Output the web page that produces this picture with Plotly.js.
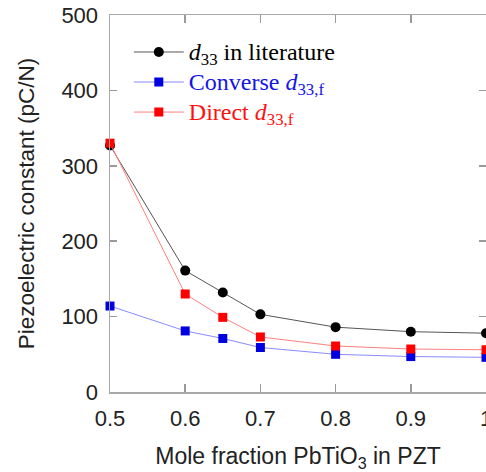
<!DOCTYPE html>
<html>
<head>
<meta charset="utf-8">
<script src="https://cdn.plot.ly/plotly-3.0.1.min.js"></script>
<style>
  html, body { margin: 0; padding: 0; background: #fff; overflow: hidden; }
  #chart { width: 486px; height: 472px; }
</style>
</head>
<body>
<div id="chart"></div>
<script>
// PbTiO3 mole fraction in PZT
const moleFraction = [0.5, 0.6, 0.65, 0.7, 0.8, 0.9, 1.0];

// Piezoelectric constants (pC/N)
const d33Literature = [327, 161, 132, 103, 86, 80, 78];
const d33Converse   = [114, 81, 71, 59, 50, 47, 46];
const d33Direct     = [330, 130, 99, 73, 61, 57, 56];

const xTicks = [0.5, 0.6, 0.7, 0.8, 0.9, 1.0];
const xTickText = ['0.5', '0.6', '0.7', '0.8', '0.9', '1'];
const yTicks = [0, 100, 200, 300, 400, 500];

// legend rows use a slightly larger face than the row spacing implies
const legendName = (txt, color) =>
  '<span style="font-size:24px;color:' + color + '">' + txt + '</span>';

const traces = [
  {
    x: moleFraction, y: d33Literature,
    name: legendName('<i>d</i><sub>33</sub> in literature', '#000000'),
    mode: 'lines+markers', type: 'scatter', cliponaxis: false,
    line: { color: '#555555', width: 1 },
    marker: { symbol: 'circle', size: 10, color: '#000000' },
    legendgroup: 'a'
  },
  {
    x: moleFraction, y: d33Converse,
    name: legendName('Converse <i>d</i><sub>33,f</sub>', '#1414e6'),
    mode: 'lines+markers', type: 'scatter', cliponaxis: false,
    line: { color: '#8a8aff', width: 1 },
    marker: { symbol: 'square', size: 9, color: '#0000e0' },
    legendgroup: 'b'
  },
  {
    x: moleFraction, y: d33Direct,
    name: legendName('Direct <i>d</i><sub>33,f</sub>', '#ff1010'),
    mode: 'lines+markers', type: 'scatter', cliponaxis: false,
    line: { color: '#ff8080', width: 1 },
    marker: { symbol: 'square', size: 9, color: '#ff0000' },
    legendgroup: 'c'
  }
];

const axisFont = { family: 'Liberation Sans, Arial, sans-serif', size: 22, color: '#222222' };

const layout = {
  width: 486, height: 472,
  margin: { l: 110, r: 0, t: 15, b: 80 },
  paper_bgcolor: '#ffffff', plot_bgcolor: '#ffffff',
  showlegend: true,
  legend: {
    x: 0.05, y: 0.955, xanchor: 'left', yanchor: 'top',
    font: { family: 'Liberation Serif, Times New Roman, serif', size: 20.8, color: '#000000' },
    bgcolor: 'rgba(255,255,255,0)', borderwidth: 0,
    itemwidth: 50,
    traceorder: 'grouped', tracegroupgap: 0
  },
  xaxis: {
    range: [0.5, 1.0],
    tickvals: xTicks, ticktext: xTickText,
    ticks: 'inside', ticklen: 8, tickcolor: '#9a9a9a', tickwidth: 1.5,
    showline: true, linecolor: '#a8a8a8', linewidth: 1.5, mirror: 'ticks',
    showgrid: false, zeroline: false,
    tickfont: axisFont, ticklabelstandoff: 6, ticklabeloverflow: 'allow',
    title: { text: 'Mole fraction PbTiO<sub>3</sub> in PZT', font: { family: 'Liberation Sans, Arial, sans-serif', size: 23, color: '#222222' }, standoff: 22 }
  },
  yaxis: {
    range: [0, 500],
    tickvals: yTicks,
    ticks: 'inside', ticklen: 7, tickcolor: '#9a9a9a', tickwidth: 1.5,
    showline: true, linecolor: '#a8a8a8', linewidth: 1.5, mirror: 'ticks',
    showgrid: false, zeroline: false,
    tickfont: axisFont, ticklabelstandoff: 6,
    title: { text: 'Piezoelectric constant (pC/N)', font: { family: 'Liberation Sans, Arial, sans-serif', size: 22.5, color: '#222222' }, standoff: 20 }
  }
};

Plotly.newPlot('chart', traces, layout, { displayModeBar: false, staticPlot: true });
</script>
</body>
</html>
